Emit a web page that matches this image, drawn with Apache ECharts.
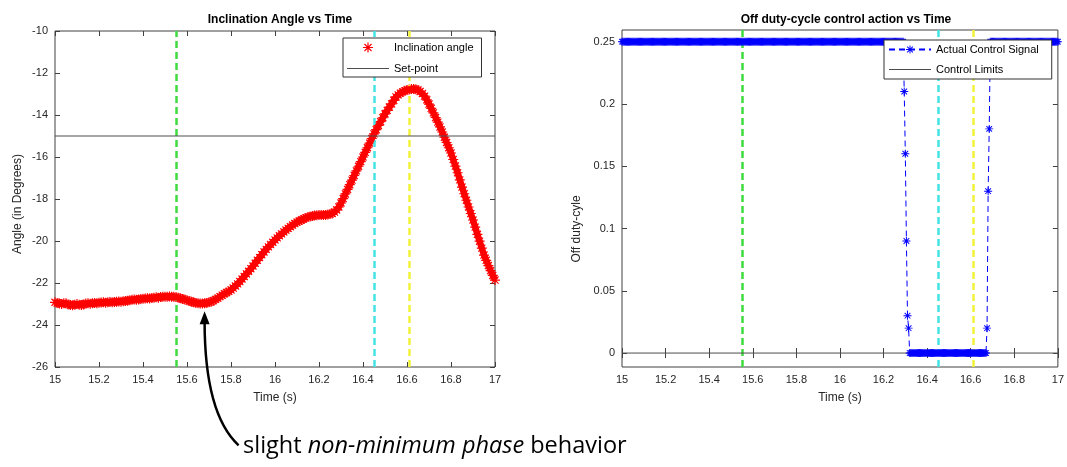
<!DOCTYPE html>
<html><head><meta charset="utf-8">
<script src="https://cdn.jsdelivr.net/npm/echarts@6/dist/echarts.min.js"></script>
<style>html,body{margin:0;padding:0;background:#fff}#c{width:1067px;height:467px}</style>
</head><body><div id="c"></div>
<script>
// ---------- data ----------
const timeTicks = [15, 15.2, 15.4, 15.6, 15.8, 16, 16.2, 16.4, 16.6, 16.8, 17];
const angleTicks = [-26, -24, -22, -20, -18, -16, -14, -12, -10];
const dutyTicks = [0, 0.05, 0.1, 0.15, 0.2, 0.25];

// inclination angle, sampled every 0.01 s from 15.00 s
const angleStart = 15, angleStep = 0.01;
const angleValues = [
  -22.92, -22.95, -22.98, -23.00, -22.96, -22.97, -23.02, -23.05, -23.06, -23.03, -23.00,
  -23.04, -23.05, -23.02, -22.98, -22.97, -22.99, -22.97, -22.95, -22.96, -22.94,
  -22.93, -22.92, -22.94, -22.92, -22.90, -22.92, -22.90, -22.89, -22.88, -22.89,
  -22.87, -22.86, -22.84, -22.82, -22.80, -22.79, -22.80, -22.78, -22.76, -22.75,
  -22.74, -22.73, -22.74, -22.72, -22.70, -22.68, -22.70, -22.67, -22.66, -22.66,
  -22.65, -22.64, -22.66, -22.65, -22.67, -22.70, -22.73, -22.76, -22.79, -22.82,
  -22.86, -22.89, -22.92, -22.95, -22.97, -22.98, -22.98, -22.97, -22.95, -22.92,
  -22.89, -22.84, -22.78, -22.72, -22.65, -22.58, -22.51, -22.45, -22.40, -22.33,
  -22.24, -22.14, -22.04, -21.93, -21.81, -21.69, -21.57, -21.44, -21.32, -21.19,
  -21.06, -20.92, -20.79, -20.65, -20.52, -20.40, -20.28, -20.17, -20.06, -19.95,
  -19.85, -19.75, -19.66, -19.57, -19.48, -19.40, -19.32, -19.24, -19.17, -19.10,
  -19.05, -19.00, -18.95, -18.90, -18.86, -18.83, -18.81, -18.79, -18.77, -18.76,
  -18.76, -18.76, -18.76, -18.74, -18.72, -18.69, -18.62, -18.52, -18.38, -18.19,
  -17.98, -17.76, -17.54, -17.32, -17.10, -16.88, -16.66, -16.44, -16.22, -16.00,
  -15.78, -15.56, -15.34, -15.12, -14.90, -14.70, -14.50, -14.32, -14.13, -13.95,
  -13.78, -13.62, -13.47, -13.30, -13.14, -13.04, -12.96, -12.90, -12.85, -12.81,
  -12.78, -12.76, -12.76, -12.77, -12.81, -12.88, -12.98, -13.10, -13.28, -13.48,
  -13.68, -13.90, -14.12, -14.34, -14.57, -14.81, -15.06, -15.31, -15.56, -15.81,
  -16.12, -16.43, -16.75, -17.09, -17.43, -17.75, -18.06, -18.38, -18.69, -19.00,
  -19.34, -19.68, -20.01, -20.34, -20.67, -20.92, -21.17, -21.41, -21.64, -21.86
];

// off duty-cycle control signal, sampled every 0.005 s from 15.000 s (one row = 0.1 s)
const ctrlStart = 15, ctrlStep = 0.005;
const ctrlValues = [
  0.25,0.25,0.25,0.25,0.25,0.25,0.25,0.25,0.25,0.25,0.25,0.25,0.25,0.25,0.25,0.25,0.25,0.25,0.25,0.25,
  0.25,0.25,0.25,0.25,0.25,0.25,0.25,0.25,0.25,0.25,0.25,0.25,0.25,0.25,0.25,0.25,0.25,0.25,0.25,0.25,
  0.25,0.25,0.25,0.25,0.25,0.25,0.25,0.25,0.25,0.25,0.25,0.25,0.25,0.25,0.25,0.25,0.25,0.25,0.25,0.25,
  0.25,0.25,0.25,0.25,0.25,0.25,0.25,0.25,0.25,0.25,0.25,0.25,0.25,0.25,0.25,0.25,0.25,0.25,0.25,0.25,
  0.25,0.25,0.25,0.25,0.25,0.25,0.25,0.25,0.25,0.25,0.25,0.25,0.25,0.25,0.25,0.25,0.25,0.25,0.25,0.25,
  0.25,0.25,0.25,0.25,0.25,0.25,0.25,0.25,0.25,0.25,0.25,0.25,0.25,0.25,0.25,0.25,0.25,0.25,0.25,0.25,
  0.25,0.25,0.25,0.25,0.25,0.25,0.25,0.25,0.25,0.25,0.25,0.25,0.25,0.25,0.25,0.25,0.25,0.25,0.25,0.25,
  0.25,0.25,0.25,0.25,0.25,0.25,0.25,0.25,0.25,0.25,0.25,0.25,0.25,0.25,0.25,0.25,0.25,0.25,0.25,0.25,
  0.25,0.25,0.25,0.25,0.25,0.25,0.25,0.25,0.25,0.25,0.25,0.25,0.25,0.25,0.25,0.25,0.25,0.25,0.25,0.25,
  0.25,0.25,0.25,0.25,0.25,0.25,0.25,0.25,0.25,0.25,0.25,0.25,0.25,0.25,0.25,0.25,0.25,0.25,0.25,0.25,
  0.25,0.25,0.25,0.25,0.25,0.25,0.25,0.25,0.25,0.25,0.25,0.25,0.25,0.25,0.25,0.25,0.25,0.25,0.25,0.25,
  0.25,0.25,0.25,0.25,0.25,0.25,0.25,0.25,0.25,0.25,0.25,0.25,0.25,0.25,0.25,0.25,0.25,0.25,0.25,0.25,
  0.25,0.25,0.25,0.25,0.25,0.25,0.25,0.25,0.25,0.25,0.25,0.25,0.25,0.25,0.25,0.25,0.25,0.25,0.25,0.21,
  0.16,0.09,0.03,0.02,0,0,0,0,0,0,0,0,0,0,0,0,0,0,0,0,
  0,0,0,0,0,0,0,0,0,0,0,0,0,0,0,0,0,0,0,0,
  0,0,0,0,0,0,0,0,0,0,0,0,0,0,0,0,0,0,0,0,
  0,0,0,0,0,0,0,0,0,0,0,0,0,0,0,0.02,0.13,0.18,0.25,0.25,
  0.25,0.25,0.25,0.25,0.25,0.25,0.25,0.25,0.25,0.25,0.25,0.25,0.25,0.25,0.25,0.25,0.25,0.25,0.25,0.25,
  0.25,0.25,0.25,0.25,0.25,0.25,0.25,0.25,0.25,0.25,0.25,0.25,0.25,0.25,0.25,0.25,0.25,0.25,0.25,0.25,
  0.25,0.25,0.25,0.25,0.25,0.25,0.25,0.25,0.25,0.25,0.25,0.25,0.25,0.25,0.25,0.25,0.25,0.25,0.25,0.25,
  0.25
];

const setPoint = -15;
const controlLimits = [0, 0.25];
const eventTimes = [15.55, 16.45, 16.61];
const eventColors = ['#3fdc3f', '#45e3e3', '#f2f23a'];
const annotationPoint = [15.68, -23.35];

// ---------- chart ----------
const FONT = 'Liberation Sans, Arial, sans-serif';
const TXT = '#262626';
const ASTERISK = 'path://M-10,-1.2L10,-1.2L10,1.2L-10,1.2Z M-1.2,-10L1.2,-10L1.2,10L-1.2,10Z M6.22,7.92L-7.92,-6.22L-6.22,-7.92L7.92,6.22Z M-7.92,6.22L6.22,-7.92L7.92,-6.22L-6.22,7.92Z';
const LINE_ICON = 'path://M0,0L0.01,0L0.01,10L0,10Z M0,4.55L42,4.55L42,5.45L0,5.45Z';

const angleData = angleValues.map((v, i) => [+(angleStart + i * angleStep).toFixed(3), v]);
const ctrlData = ctrlValues.map((v, i) => [+(ctrlStart + i * ctrlStep).toFixed(3), v]);

function xAxisCfg(grid, pos) {
  const main = pos === 'bottom';
  return {
    type: 'value', gridIndex: grid, position: pos, min: 15, max: 17, interval: 0.2,
    axisLine: { show: false }, splitLine: { show: false },
    axisTick: { show: true, inside: true, length: 5, lineStyle: { color: '#404040' } },
    axisLabel: { show: main, margin: 7, fontSize: 11, color: TXT, fontFamily: FONT,
      formatter: v => String(+v.toFixed(1)) },
    name: main ? 'Time (s)' : '', nameLocation: 'middle', nameGap: 25,
    nameTextStyle: { fontSize: 12, color: TXT, fontFamily: FONT }
  };
}
function angleYAxis(pos) {
  const main = pos === 'left';
  return {
    type: 'value', gridIndex: 0, position: pos, min: -26, max: -10, interval: 2,
    axisLine: { show: false }, splitLine: { show: false },
    axisTick: { show: true, inside: true, length: 5, lineStyle: { color: '#404040' } },
    axisLabel: { show: main, margin: 7, fontSize: 11, color: TXT, fontFamily: FONT }
  };
}
function dutyYAxis(pos) {
  const main = pos === 'left';
  return {
    type: 'value', gridIndex: 1, position: pos, min: -0.0112, max: 0.2594,
    axisLine: { show: false }, splitLine: { show: false },
    axisTick: { show: true, inside: true, length: 5, customValues: dutyTicks, lineStyle: { color: '#404040' } },
    axisLabel: { show: main, margin: 7, fontSize: 11, color: TXT, fontFamily: FONT, customValues: dutyTicks,
      formatter: v => String(+(+v).toFixed(2)) }
  };
}
function eventMarks() {
  return {
    silent: true, z: 3, symbol: ['none', 'none'], label: { show: false },
    data: eventTimes.map((t, i) => ({ xAxis: t, lineStyle: { color: eventColors[i], width: 2.5, type: [7, 4] } }))
  };
}

const chart = echarts.init(document.getElementById('c'), null, { renderer: 'canvas' });
const option = {
  animation: false,
  backgroundColor: '#fff',
  textStyle: { fontFamily: FONT },
  title: [
    { text: 'Inclination Angle vs Time', left: 275, top: 9, textAlign: 'center',
      textStyle: { fontSize: 12, fontWeight: 'bold', color: '#000', fontFamily: FONT } },
    { text: 'Off duty-cycle control action vs Time', left: 841, top: 9, textAlign: 'center',
      textStyle: { fontSize: 12, fontWeight: 'bold', color: '#000', fontFamily: FONT } }
  ],
  grid: [
    { left: 55, top: 31, width: 440, height: 336, show: true, borderColor: '#404040', borderWidth: 1, backgroundColor: '#fff' },
    { left: 622, top: 30, width: 438, height: 337, show: true, borderColor: '#404040', borderWidth: 1, backgroundColor: '#fff' }
  ],
  xAxis: [xAxisCfg(0, 'bottom'), xAxisCfg(0, 'top'), xAxisCfg(1, 'bottom'), xAxisCfg(1, 'top')],
  yAxis: [angleYAxis('left'), angleYAxis('right'), dutyYAxis('left'), dutyYAxis('right')],
  legend: [
    { data: ['Inclination angle', { name: 'Set-point', icon: LINE_ICON }], orient: 'vertical', left: 343, top: 38,
      padding: [4, 8, 3, 4], itemGap: 10, itemWidth: 42, itemHeight: 10,
      borderColor: '#333', borderWidth: 1, backgroundColor: '#fff', borderRadius: 0,
      textStyle: { fontSize: 11, color: '#000', fontFamily: FONT } },
    { data: ['Actual Control Signal', { name: 'Control Limits', icon: LINE_ICON }], orient: 'vertical', left: 884, top: 40,
      padding: [4, 13, 4, 4], itemGap: 9, itemWidth: 42, itemHeight: 10,
      borderColor: '#333', borderWidth: 1, backgroundColor: '#fff', borderRadius: 0,
      textStyle: { fontSize: 11, color: '#000', fontFamily: FONT } }
  ],
  series: [
    { name: 'angle-band', type: 'line', xAxisIndex: 0, yAxisIndex: 0, symbol: 'none', silent: true,
      lineStyle: { color: '#ff0000', width: 6.5 }, itemStyle: { color: '#ff0000' }, data: angleData },
    { name: 'Inclination angle', type: 'scatter', xAxisIndex: 0, yAxisIndex: 0,
      symbol: ASTERISK, symbolSize: 10, symbolKeepAspect: true,
      itemStyle: { color: '#ff0000', opacity: 1 }, data: angleData },
    { name: 'Set-point', type: 'line', xAxisIndex: 0, yAxisIndex: 0, symbol: 'none',
      lineStyle: { color: '#4d4d4d', width: 1 }, itemStyle: { color: '#4d4d4d' },
      data: [[15, setPoint], [17, setPoint]], markLine: eventMarks() },
    { name: 'Control Limits', type: 'line', xAxisIndex: 2, yAxisIndex: 2, symbol: 'none',
      lineStyle: { color: '#4d4d4d', width: 1 }, itemStyle: { color: '#4d4d4d' },
      data: [[15, controlLimits[0]], [17, controlLimits[0]]] },
    { name: 'Control Limits', type: 'line', xAxisIndex: 2, yAxisIndex: 2, symbol: 'none',
      lineStyle: { color: '#4d4d4d', width: 1 }, itemStyle: { color: '#4d4d4d' },
      data: [[15, controlLimits[1]], [17, controlLimits[1]]] },
    { name: 'Actual Control Signal', type: 'line', xAxisIndex: 2, yAxisIndex: 2,
      symbol: ASTERISK, symbolSize: 8, symbolKeepAspect: true, showAllSymbol: true,
      lineStyle: { color: '#0000ff', width: 1, type: [6, 4] }, itemStyle: { color: '#0000ff' },
      data: ctrlData, markLine: eventMarks() }
  ]
};
chart.setOption(option);

// axis titles for the y axes, annotation arrow and caption
const tip = chart.convertToPixel({ xAxisIndex: 0, yAxisIndex: 0 }, annotationPoint);
const tx = tip[0], ty = tip[1];
const yTitleStyle = { fontSize: 12, fontFamily: FONT, fill: TXT, align: 'center', verticalAlign: 'middle' };
chart.setOption({
  graphic: [
    { type: 'text', silent: true, x: 18, y: 204, rotation: Math.PI / 2,
      style: Object.assign({ text: 'Angle (in Degrees)' }, yTitleStyle) },
    { type: 'text', silent: true, x: 577, y: 229, rotation: Math.PI / 2,
      style: Object.assign({ text: 'Off duty-cyle' }, yTitleStyle) },
    { type: 'bezierCurve', z: 100, silent: true,
      shape: { x1: tx + 34, y1: ty + 134, cpx1: tx + 8, cpy1: ty + 110, cpx2: tx, cpy2: ty + 60, x2: tx, y2: ty + 10 },
      style: { stroke: '#000', lineWidth: 2.5, fill: null } },
    { type: 'polygon', z: 100, silent: true,
      shape: { points: [[tx, ty], [tx - 5, ty + 13], [tx + 5, ty + 13]] },
      style: { fill: '#000' } },
    { type: 'text', z: 100, silent: true, left: 243, top: 434,
      style: {
        text: '{n|slight }{i|non-minimum phase}{n| behavior}',
        rich: {
          n: { fontSize: 23.5, fontFamily: 'Open Sans, Noto Sans, sans-serif', fill: '#000' },
          i: { fontSize: 23.5, fontStyle: 'italic', fontFamily: 'Open Sans, Noto Sans, sans-serif', fill: '#000' }
        }
      } }
  ]
});
</script></body></html>
